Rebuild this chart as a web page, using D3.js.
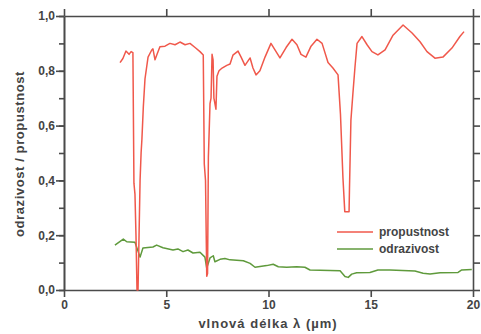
<!DOCTYPE html>
<html>
<head>
<meta charset="utf-8">
<script src="https://cdn.jsdelivr.net/npm/d3@7"></script>
<style>
  html, body { margin: 0; padding: 0; background: #fff; }
  svg { display: block; }
  text { font-family: "Liberation Sans", Arial, sans-serif; font-weight: bold; fill: #444; }
</style>
</head>
<body>
<svg id="chart" width="481" height="334"></svg>
<script>
// ---- data ----
const xTicks = [0, 5, 10, 15, 20];
const xTickLabels = ["0", "5", "10", "15", "20"];
const yTicks = [0, 0.2, 0.4, 0.6, 0.8, 1.0];
const yTickLabels = ["0,0", "0,2", "0,4", "0,6", "0,8", "1,0"];
const yMinorTicks = [0, 0.1, 0.2, 0.3, 0.4, 0.5, 0.6, 0.7, 0.8, 0.9, 1.0];
const xTitle = "vlnová délka λ (µm)";
const yTitle = "odrazivost / propustnost";
const seriesNames = ["propustnost", "odrazivost"];
const seriesColors = ["#f0584b", "#5f9a3c"];

// propustnost (transmittance)
const propX = [2.74, 2.88, 3.03, 3.18, 3.28, 3.37, 3.42, 3.47, 3.52, 3.57, 3.62, 3.67, 3.72, 3.77, 3.81, 3.88, 3.96, 4.11, 4.29, 4.35, 4.45, 4.55, 4.69, 4.94, 5.18, 5.43, 5.67, 5.92, 6.16, 6.41, 6.65, 6.81, 6.86, 6.92, 6.98, 7.02, 7.06, 7.14, 7.19, 7.24, 7.29, 7.33, 7.43, 7.48, 7.58, 7.73, 7.96, 8.12, 8.26, 8.51, 8.66, 8.85, 9.10, 9.24, 9.39, 9.58, 9.83, 10.12, 10.37, 10.56, 10.86, 11.15, 11.39, 11.59, 11.83, 12.08, 12.37, 12.62, 12.91, 13.15, 13.40, 13.52, 13.64, 13.73, 13.94, 13.96, 14.03, 14.13, 14.23, 14.33, 14.57, 14.82, 15.06, 15.35, 15.70, 16.09, 16.58, 17.02, 17.41, 17.75, 18.14, 18.53, 18.97, 19.36, 19.56];
const propY = [0.83, 0.845, 0.872, 0.86, 0.87, 0.866, 0.39, 0.35, 0.2, 0.0, 0.0, 0.2, 0.4, 0.5, 0.55, 0.67, 0.77, 0.85, 0.876, 0.88, 0.84, 0.86, 0.888, 0.89, 0.9, 0.895, 0.905, 0.895, 0.9, 0.885, 0.87, 0.858, 0.46, 0.4, 0.05, 0.06, 0.485, 0.68, 0.7, 0.86, 0.84, 0.70, 0.66, 0.78, 0.80, 0.81, 0.82, 0.825, 0.857, 0.872, 0.85, 0.82, 0.847, 0.81, 0.785, 0.80, 0.85, 0.90, 0.87, 0.847, 0.885, 0.915, 0.895, 0.86, 0.85, 0.89, 0.915, 0.9, 0.83, 0.81, 0.785, 0.64, 0.41, 0.286, 0.286, 0.37, 0.62, 0.72, 0.815, 0.90, 0.925, 0.895, 0.87, 0.858, 0.876, 0.93, 0.967, 0.938, 0.906, 0.87, 0.846, 0.85, 0.883, 0.925, 0.943];

// odrazivost (reflectance)
const odrX = [2.49, 2.90, 3.07, 3.47, 3.72, 3.86, 4.35, 4.53, 4.84, 5.33, 5.57, 5.82, 6.06, 6.31, 6.65, 6.89, 6.98, 7.14, 7.30, 7.38, 7.63, 7.87, 8.12, 8.77, 9.10, 9.34, 9.91, 10.23, 10.48, 10.89, 11.38, 11.78, 12.03, 13.50, 13.74, 13.90, 14.07, 14.31, 14.96, 15.35, 15.94, 17.16, 17.56, 17.90, 18.39, 19.27, 19.45, 19.94];
const odrY = [0.164, 0.186, 0.176, 0.174, 0.12, 0.153, 0.157, 0.164, 0.154, 0.146, 0.150, 0.14, 0.146, 0.135, 0.138, 0.12, 0.08, 0.117, 0.125, 0.103, 0.112, 0.115, 0.11, 0.107, 0.097, 0.083, 0.089, 0.094, 0.085, 0.083, 0.085, 0.083, 0.073, 0.07, 0.049, 0.046, 0.058, 0.063, 0.064, 0.073, 0.073, 0.069, 0.061, 0.058, 0.063, 0.064, 0.073, 0.075];

// ---- layout ----
const svg = d3.select("#chart");
const L = 64, R = 473, T = 16, B = 290;
const x = d3.scaleLinear().domain([0, 20]).range([L, R]);
const y = d3.scaleLinear().domain([0, 1]).range([B, T]);
const axisColor = "#4a4a4a";

function styleAxis(g) {
  g.selectAll(".domain").attr("stroke", axisColor).attr("stroke-width", 1.6);
  g.selectAll(".tick line").attr("stroke", axisColor).attr("stroke-width", 1.6);
  g.selectAll(".tick text").style("font-size", "12px").attr("fill", "#444")
    .style("font-family", "'Liberation Sans', Arial, sans-serif").style("font-weight", "bold");
}

// left minor ticks
svg.append("g").attr("transform", `translate(${L},0)`)
  .call(d3.axisLeft(y).tickValues(yMinorTicks).tickSize(5).tickSizeOuter(0).tickFormat(""))
  .call(styleAxis);
// left major
svg.append("g").attr("transform", `translate(${L},0)`)
  .call(d3.axisLeft(y).tickValues(yTicks).tickSize(8).tickSizeOuter(0).tickPadding(1)
    .tickFormat((d, i) => yTickLabels[i]))
  .call(styleAxis);
// right
svg.append("g").attr("transform", `translate(${R},0)`)
  .call(d3.axisRight(y).tickValues(yMinorTicks).tickSize(7).tickSizeOuter(0).tickFormat(""))
  .call(styleAxis);
// bottom
svg.append("g").attr("transform", `translate(0,${B})`)
  .call(d3.axisBottom(x).tickValues(xTicks).tickSize(7).tickSizeOuter(0).tickPadding(3)
    .tickFormat((d, i) => xTickLabels[i]))
  .call(styleAxis);
// top
svg.append("g").attr("transform", `translate(0,${T})`)
  .call(d3.axisTop(x).tickValues(xTicks).tickSize(7).tickSizeOuter(0).tickFormat(""))
  .call(styleAxis);

// titles
svg.append("text").attr("x", 268).attr("y", 328).attr("text-anchor", "middle")
  .style("font-size", "13px").style("letter-spacing", "1px").attr("fill", "#333").text(xTitle);
svg.append("text").attr("transform", `translate(24,${(T + B) / 2 + 1}) rotate(-90)`)
  .attr("text-anchor", "middle").style("font-size", "13px").style("letter-spacing", "0.6px")
  .attr("fill", "#333").text(yTitle);

// lines
const line = d3.line().x(d => x(d[0])).y(d => y(d[1]));
const propData = propX.map((v, i) => [v, propY[i]]);
const odrData = odrX.map((v, i) => [v, odrY[i]]);

const plot = svg.append("g");
plot.append("path").datum(odrData).attr("d", line).attr("fill", "none")
  .attr("stroke", seriesColors[1]).attr("stroke-width", 1.5).attr("stroke-linejoin", "round");
plot.append("path").datum(propData).attr("d", line).attr("fill", "none")
  .attr("stroke", seriesColors[0]).attr("stroke-width", 1.5).attr("stroke-linejoin", "round");

// legend
const legend = svg.append("g");
seriesNames.forEach((name, i) => {
  const ly = 232 + i * 17;
  legend.append("line").attr("x1", 337).attr("x2", 373).attr("y1", ly).attr("y2", ly)
    .attr("stroke", seriesColors[i]).attr("stroke-width", 1.5);
  legend.append("text").attr("x", 379).attr("y", ly + 4).style("font-size", "12px")
    .attr("fill", seriesColors[i]).text(name);
});
</script>
</body>
</html>
